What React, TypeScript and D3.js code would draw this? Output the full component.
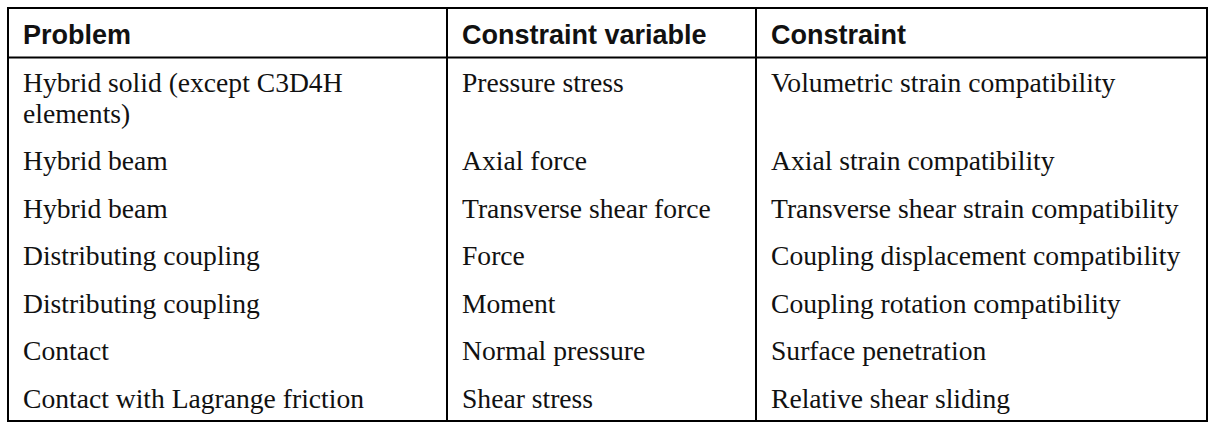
import { useMemo } from "react";
import * as d3 from "d3";

// table content
const headers = ["Problem", "Constraint variable", "Constraint"];
const problems = [
  "Hybrid solid (except C3D4H elements)",
  "Hybrid beam",
  "Hybrid beam",
  "Distributing coupling",
  "Distributing coupling",
  "Contact",
  "Contact with Lagrange friction",
];
const variables = [
  "Pressure stress",
  "Axial force",
  "Transverse shear force",
  "Force",
  "Moment",
  "Normal pressure",
  "Shear stress",
];
const constraints = [
  "Volumetric strain compatibility",
  "Axial strain compatibility",
  "Transverse shear strain compatibility",
  "Coupling displacement compatibility",
  "Coupling rotation compatibility",
  "Surface penetration",
  "Relative shear sliding",
];

const width = 1212;
const height = 423;
const colEdges = [8, 447, 756, 1207];
const tableTop = 8;
const headerH = 49.5;
const lineH = 31;
const rowPad = 8.25;
const padX = 15;
const headSize = 27;
const bodySize = 27.6;
const bodyFamily = "'Liberation Serif', 'Times New Roman', serif";
const headFamily = "'Liberation Sans', Arial, Helvetica, sans-serif";

function wrap(text: string, maxWidth: number, ctx: CanvasRenderingContext2D | null) {
  if (!ctx) return [text];
  const words = text.split(" ");
  const lines: string[] = [];
  let cur = "";
  for (const w of words) {
    const t = cur ? cur + " " + w : w;
    if (cur && ctx.measureText(t).width > maxWidth) {
      lines.push(cur);
      cur = w;
    } else cur = t;
  }
  lines.push(cur);
  return lines;
}

const App = () => {
  const layout = useMemo(() => {
    const ctx = document.createElement("canvas").getContext("2d");
    if (ctx) ctx.font = `${bodySize}px ${bodyFamily}`;
    const columns = [problems, variables, constraints];
    const cells = problems.map((_, i) =>
      columns.map((col, c) =>
        wrap(col[i], colEdges[c + 1] - colEdges[c] - 2 * padX + 4, ctx)
      )
    );
    const rowHeights = cells.map(
      (row) => (d3.max(row, (lines) => lines.length) ?? 1) * lineH + 2 * rowPad
    );
    const bodyTop = tableTop + headerH;
    const tops = [bodyTop, ...Array.from(d3.cumsum(rowHeights)).map((h) => bodyTop + h)];
    return { cells, tops };
  }, []);

  const { cells, tops } = layout;
  const tableBottom = tops[tops.length - 1];
  const x0 = colEdges[0];
  const x1 = colEdges[colEdges.length - 1];

  return (
    <svg
      width={width}
      height={height}
      style={{ position: "absolute", left: 0, top: 0, display: "block", background: "#fff" }}
    >
      <rect x={0} y={0} width={width} height={height} fill="#fff" />
      {headers.map((h, c) => (
        <text
          key={h}
          x={colEdges[c] + padX}
          y={tableTop + 35.5}
          fontFamily={headFamily}
          fontWeight="bold"
          fontSize={headSize}
          fill="#111"
        >
          {h}
        </text>
      ))}
      {cells.map((row, r) =>
        row.map((lines, c) =>
          lines.map((line, li) => (
            <text
              key={`${r}-${c}-${li}`}
              x={colEdges[c] + padX}
              y={tops[r] + rowPad + li * lineH + 26}
              fontFamily={bodyFamily}
              fontSize={bodySize}
              fill="#111"
            >
              {line}
            </text>
          ))
        )
      )}
      <g stroke="#000" strokeWidth={2} fill="none">
        <rect x={x0} y={tableTop} width={x1 - x0} height={tableBottom - tableTop} />
        <line x1={x0} x2={x1} y1={tableTop + headerH} y2={tableTop + headerH} />
        {colEdges.slice(1, -1).map((x) => (
          <line key={x} x1={x} x2={x} y1={tableTop} y2={tableBottom} />
        ))}
      </g>
    </svg>
  );
};

export default App;
